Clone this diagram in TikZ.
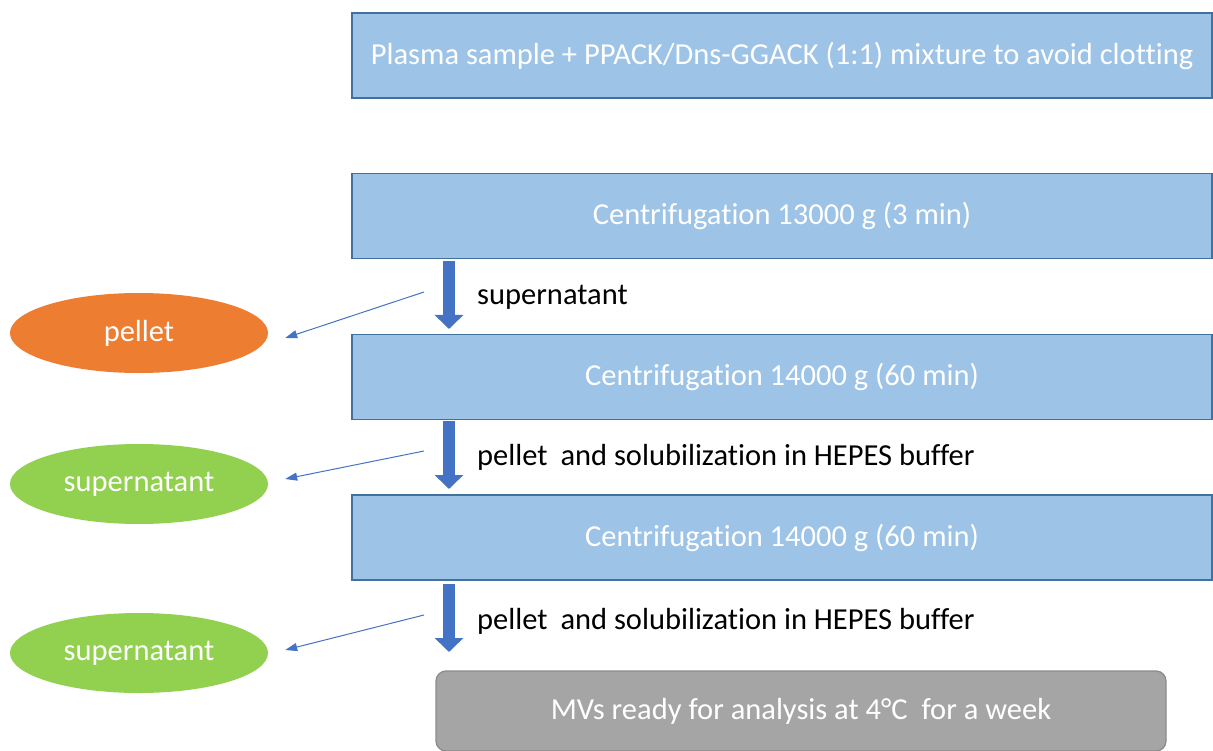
\documentclass[tikz,border=0pt]{standalone}
\usepackage{fontspec}
\setmainfont{Carlito}[Ligatures={NoCommon}]
\usetikzlibrary{arrows.meta,shapes.geometric}
\definecolor{boxfill}{HTML}{9DC3E6}
\definecolor{boxline}{HTML}{41719C}
\definecolor{arrblue}{HTML}{4472C4}
\definecolor{pelletor}{HTML}{ED7D31}
\definecolor{supgreen}{HTML}{92D050}
\definecolor{grayfill}{HTML}{A5A5A5}
\definecolor{grayline}{HTML}{8C8C8C}
\tikzset{
  stepbox/.style={draw=boxline, fill=boxfill, line width=1.3pt, minimum width=860pt, minimum height=85pt, inner sep=0pt, text=white, font=\fontsize{30.5}{35}\selectfont},
  finalbox/.style={draw=grayline, fill=grayfill, line width=1.3pt, rounded corners=10pt, minimum width=730pt, minimum height=80pt, inner sep=0pt, text=white, font=\fontsize{30.5}{35}\selectfont},
  blob/.style={ellipse, minimum width=258pt, minimum height=80pt, inner sep=0pt, text=white, font=\fontsize{30.5}{35}\selectfont},
  lbl/.style={anchor=west, inner sep=0pt, text=black, font=\fontsize{30.5}{35}\selectfont},
  bigarrow/.style={draw=arrblue, line width=12pt, -{Triangle[width=28pt,length=14pt]}},
  thinarrow/.style={draw=arrblue, line width=1pt, -{Triangle[width=8pt,length=12pt]}},
}
\begin{document}
\begin{tikzpicture}[x=1pt,y=-1pt]
\useasboundingbox (0,0) rectangle (1213,751);
% main boxes
\node[stepbox] (b1) at (782,55.5) {Plasma sample + PPACK/Dns-GGACK (1:1) mixture to avoid clotting};
\node[stepbox] (b2) at (782,216) {Centrifugation 13000 g (3 min)};
\node[stepbox] (b3) at (782,377) {Centrifugation 14000 g (60 min)};
\node[stepbox] (b4) at (782,537.5) {Centrifugation 14000 g (60 min)};
\node[finalbox] (b5) at (801,711) {MVs ready for analysis at 4°C\ \ for a week};
% side ellipses
\node[blob, fill=pelletor] (e1) at (139,333) {pellet};
\node[blob, fill=supgreen] (e2) at (139,484) {supernatant};
\node[blob, fill=supgreen] (e3) at (139,653) {supernatant};
% thick arrows
\coordinate (a1s) at (449,261);
\coordinate (a1e) at (449,329);
\coordinate (a2s) at (449,421);
\coordinate (a2e) at (449,489);
\coordinate (a3s) at (449,584);
\coordinate (a3e) at (449,652);
\draw[bigarrow] (a1s) -- (a1e);
\draw[bigarrow] (a2s) -- (a2e);
\draw[bigarrow] (a3s) -- (a3e);
% labels
\node[lbl] (l1) at (477,297) {supernatant};
\node[lbl] (l2) at (477,457) {pellet\hspace{6pt} and solubilization in HEPES buffer};
\node[lbl] (l3) at (477,621) {pellet\hspace{6pt} and solubilization in HEPES buffer};
% thin arrows
\coordinate (t1) at (424,292);
\coordinate (t2) at (424,451);
\coordinate (t3) at (424,615);
\draw[thinarrow] (t1) -- ([xshift=17pt,yshift=-5pt]e1.east);
\draw[thinarrow] (t2) -- ([xshift=17pt,yshift=5pt]e2.east);
\draw[thinarrow] (t3) -- ([xshift=17pt,yshift=3pt]e3.east);
\end{tikzpicture}
\end{document}
